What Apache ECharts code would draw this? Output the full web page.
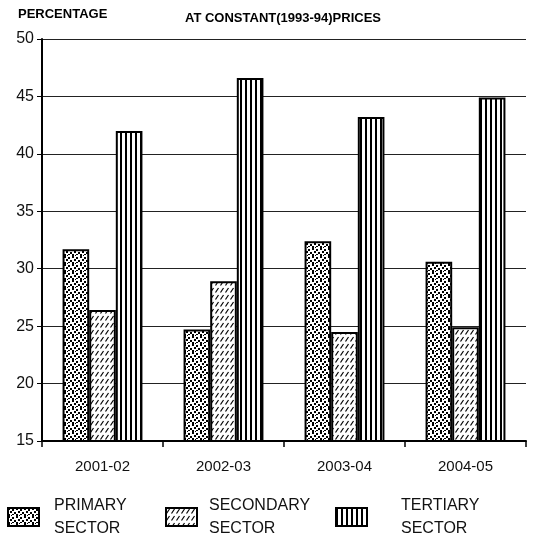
<!DOCTYPE html>
<html>
<head>
<meta charset="utf-8">
<script src="https://cdn.jsdelivr.net/npm/echarts@6/dist/echarts.min.js"></script>
<style>
  html, body { margin: 0; padding: 0; background: #fff; }
  #main { width: 533px; height: 540px; }
</style>
</head>
<body>
<div id="main"></div>
<script>
  // data
  var years = ['2001-02', '2002-03', '2003-04', '2004-05'];
  var primary = [31.7, 24.7, 32.4, 30.6];
  var secondary = [26.4, 28.9, 24.5, 24.9];
  var tertiary = [42.0, 46.6, 43.2, 44.9];
  var yTicks = [15, 20, 25, 30, 35, 40, 45, 50];

  var font = '"Liberation Sans", Arial, sans-serif';

  // fill patterns like the old print: stipple, hatch, stripes
  function tile(w, h, draw) {
    var c = document.createElement('canvas');
    c.width = w; c.height = h;
    var ctx = c.getContext('2d');
    ctx.fillStyle = '#fff';
    ctx.fillRect(0, 0, w, h);
    draw(ctx);
    return { image: c, repeat: 'repeat' };
  }
  var dots = tile(8, 8, function (ctx) {
    ctx.fillStyle = '#000';
    ctx.fillRect(0, 0, 2, 2);
    ctx.fillRect(4, 1, 2, 2);
    ctx.fillRect(2, 3, 2, 2);
    ctx.fillRect(6, 4, 2, 2);
    ctx.fillRect(0, 6, 2, 2);
    ctx.fillRect(4, 6, 2, 1);
    ctx.fillRect(3, 7, 1, 1);
  });
  var hatch = tile(5, 7, function (ctx) {
    ctx.strokeStyle = '#000';
    ctx.lineWidth = 1.2;
    ctx.beginPath();
    ctx.moveTo(0.5, 5.5); ctx.lineTo(3.5, 1);
    ctx.stroke();
  });
  var stripes = tile(5, 4, function (ctx) {
    ctx.fillStyle = '#000';
    ctx.fillRect(0, 0, 2, 4);
  });

  var chart = echarts.init(document.getElementById('main'));

  function barSeries(name, data, fill) {
    return {
      name: name,
      type: 'bar',
      data: data,
      barGap: '0%',
      barCategoryGap: '34%',
      itemStyle: { color: fill, borderColor: '#000', borderWidth: 2 }
    };
  }

  function legendAt(name, left, textLeft) {
    return {
      data: [{ name: name, icon: 'rect' }],
      left: left,
      top: 494,
      padding: 0,
      itemWidth: 31,
      itemHeight: 18,
      itemStyle: { borderColor: '#000', borderWidth: 2 },
      formatter: function (n) { return n.replace(' ', '\n'); },
      textStyle: { fontFamily: font, fontSize: 16, color: '#111', lineHeight: 23, padding: [0, 0, 0, textLeft] },
      selectedMode: false
    };
  }

  var option = {
    backgroundColor: '#fff',
    animation: false,
    title: [
      { text: 'PERCENTAGE', left: 13, top: 3, textStyle: { fontFamily: font, fontSize: 13, fontWeight: 'bold', color: '#000' } },
      { text: 'AT CONSTANT(1993-94)PRICES', left: 278, textAlign: 'center', top: 7, textStyle: { fontFamily: font, fontSize: 13, fontWeight: 'bold', color: '#000' } }
    ],
    legend: [
      legendAt('PRIMARY SECTOR', 7, 10),
      legendAt('SECONDARY SECTOR', 165, 7),
      legendAt('TERTIARY SECTOR', 335, 29)
    ],
    grid: { left: 42, right: 7, top: 39, bottom: 99 },
    xAxis: {
      type: 'category',
      data: years,
      axisLine: { lineStyle: { color: '#000', width: 2 } },
      axisTick: { show: true, length: 6, lineStyle: { color: '#000', width: 1.5 } },
      axisLabel: { fontFamily: font, fontSize: 15, color: '#111', margin: 18 }
    },
    yAxis: {
      type: 'value',
      min: yTicks[0],
      max: yTicks[yTicks.length - 1],
      interval: 5,
      axisLine: { show: true, lineStyle: { color: '#000', width: 2 } },
      axisTick: { show: true, length: 5, lineStyle: { color: '#000' } },
      axisLabel: { fontFamily: font, fontSize: 16, color: '#111', margin: 8 },
      splitLine: { lineStyle: { color: '#222', width: 1 } }
    },
    series: [
      barSeries('PRIMARY SECTOR', primary, dots),
      barSeries('SECONDARY SECTOR', secondary, hatch),
      barSeries('TERTIARY SECTOR', tertiary, stripes)
    ]
  };

  chart.setOption(option);
</script>
</body>
</html>
